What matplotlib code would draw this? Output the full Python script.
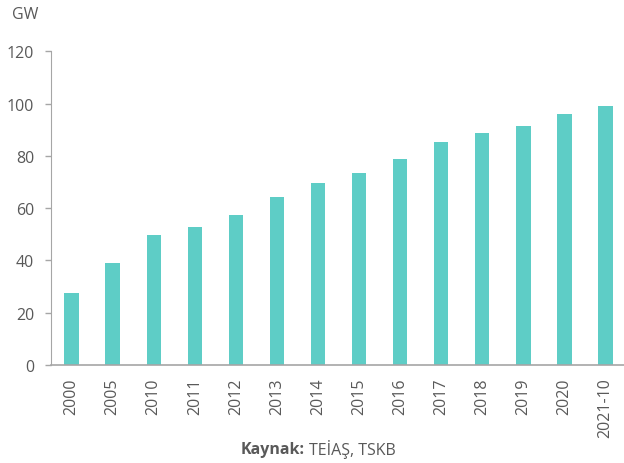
import numpy as np
import matplotlib
matplotlib.use("Agg")
import matplotlib.pyplot as plt

years = ["2000", "2005", "2010", "2011", "2012", "2013", "2014",
         "2015", "2016", "2017", "2018", "2019", "2020", "2021-10"]
capacity = [27.5, 39.0, 49.7, 52.8, 57.4, 64.3, 69.6,
            73.3, 78.7, 85.3, 88.8, 91.3, 96.0, 99.2]
yticks = [0, 20, 40, 60, 80, 100, 120]

plt.rcParams['font.family'] = ['Open Sans', 'DejaVu Sans']
txt_col = '#595959'
axis_col = '#A6A6A6'

fig = plt.figure(figsize=(6.24, 4.64), dpi=100)
ax = fig.add_axes([51/624, 98/464, 1 - 51/624, (366 - 52.3)/464])

x = np.arange(len(years))
ax.bar(x, capacity, width=0.35, color='#5ECDC6', zorder=2)

ax.set_xlim(-0.5, 13.45)
ax.set_ylim(0, 120)
ax.set_yticks(yticks)
ax.set_xticks(x)
ax.set_xticklabels(years, rotation=90, fontsize=11.5, color=txt_col)
ax.tick_params(axis='x', length=0, pad=9)
ax.tick_params(axis='y', length=4, width=1, color=axis_col, labelsize=11.5,
               labelcolor=txt_col, pad=8)

for s in ['top', 'right']:
    ax.spines[s].set_visible(False)
ax.spines['left'].set_color(axis_col)
ax.spines['bottom'].set_color(axis_col)
ax.spines['bottom'].set_linewidth(1.2)

fig.text(12/624, 1 - 15/464, "GW", fontsize=11.5, color=txt_col, va='center', ha='left')
fig.text(305/624, 1 - 450/464, "Kaynak:", fontsize=11.5, color=txt_col,
         fontweight='bold', ha='right', va='center')
fig.text(309/624, 1 - 450/464, "TEİAŞ, TSKB", fontsize=11.5, color=txt_col,
         ha='left', va='center')

plt.savefig("out.png", dpi=100)
